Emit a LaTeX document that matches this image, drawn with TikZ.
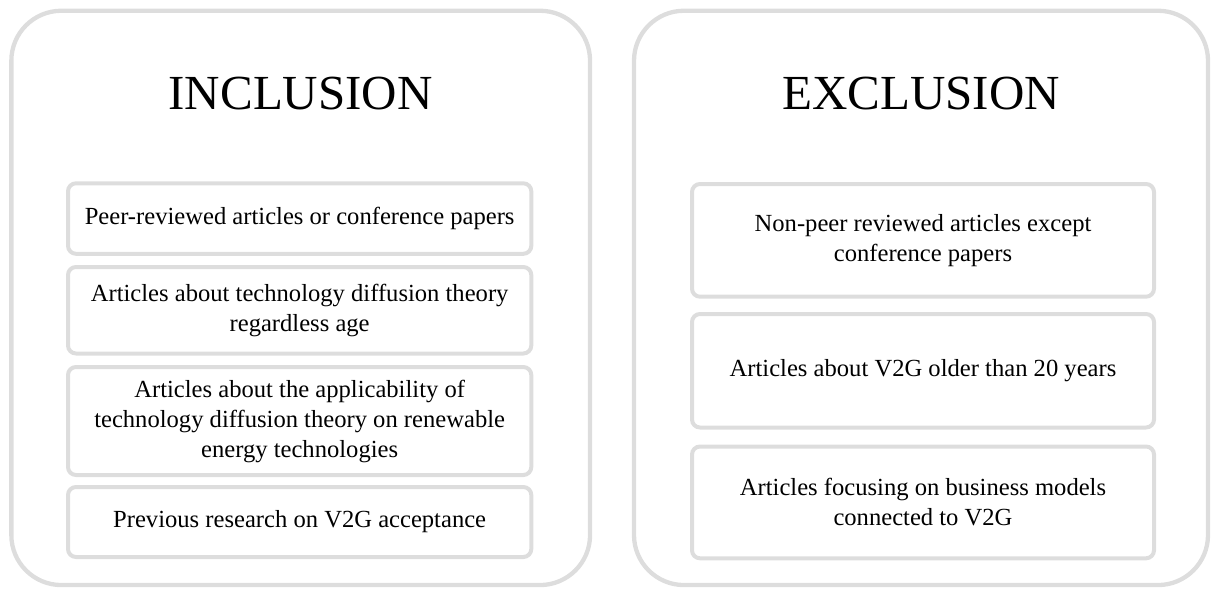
\documentclass[tikz,border=0pt]{standalone}
\usepackage{fontspec}
\setmainfont{Liberation Serif}
\definecolor{frame}{RGB}{221,221,221}
\tikzset{
  panel/.style={draw=frame, line width=4.3pt, rounded corners=50pt, inner sep=0pt},
  itembox/.style={draw=frame, line width=4pt, rounded corners=8pt, inner sep=0pt,
    align=center, font=\fontsize{24.6}{30}\selectfont},
  heading/.style={font=\fontsize{49}{55}\selectfont, inner sep=0pt},
}
\newcommand{\boxat}[6]{% name, left, top, right, bottom, text
  \node[itembox, minimum width={#4-#2}, minimum height={#5-#3}] (#1)
    at ({(#2+#4)/2},{(#3+#5)/2}) {#6};}
\begin{document}
\begin{tikzpicture}[x=1pt,y=-1pt]
\useasboundingbox (0,0) rectangle (1212,589);
% outer panels
\node[panel, minimum width=578.7, minimum height=574.3] (incl) at (300.7,297.9) {};
\node[panel, minimum width=574, minimum height=574.3] (excl) at (921,297.9) {};
% headings
\node[heading] (inclT) at (300.7,94) {INCLUSION};
\node[heading] (exclT) at (921,94) {EXCLUSION};
% inclusion criteria
\boxat{i1}{68}{183.3}{531.3}{253.8}{Peer-reviewed articles or conference papers}
\boxat{i2}{68}{267}{531.3}{353.5}{Articles about technology diffusion theory\\regardless age}
\boxat{i3}{68}{367}{531.3}{475}{Articles about the applicability of\\technology diffusion theory on renewable\\energy technologies}
\boxat{i4}{68}{487}{531.3}{557}{Previous research on V2G acceptance}
% exclusion criteria
\boxat{e1}{692}{184}{1154}{296.7}{Non-peer reviewed articles except\\conference papers}
\boxat{e2}{692}{314}{1154}{427.5}{Articles about V2G older than 20 years}
\boxat{e3}{692}{446.5}{1154}{558.3}{Articles focusing on business models\\connected to V2G}
\end{tikzpicture}
\end{document}
